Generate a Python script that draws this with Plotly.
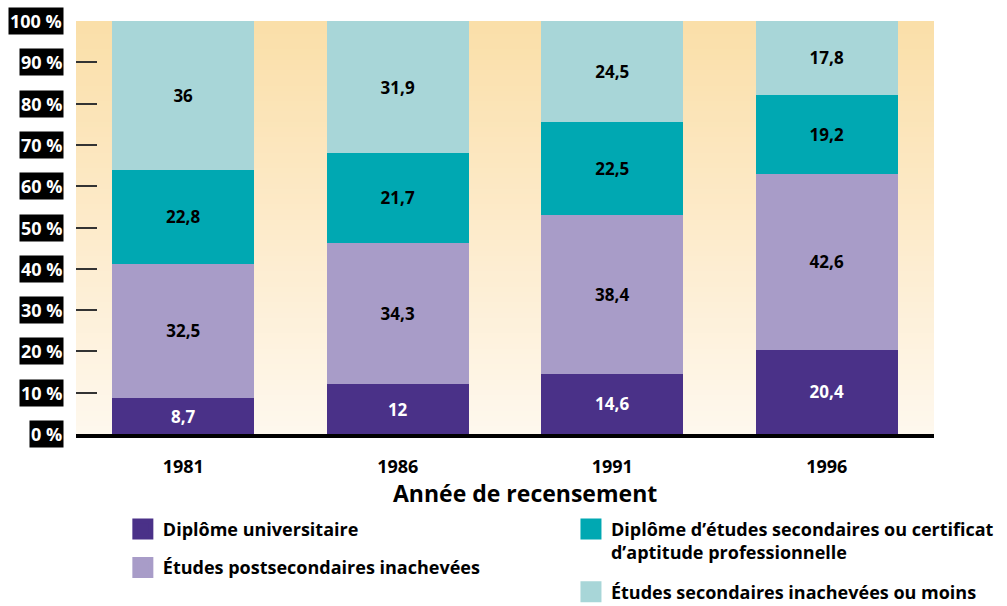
import base64, struct, zlib
import plotly.graph_objects as go

# ---- data ----
years = ["1981", "1986", "1991", "1996"]
series_names = [
    "Diplôme universitaire",
    "Études postsecondaires inachevées",
    "Diplôme d’études secondaires ou certificat<br>d’aptitude professionnelle",
    "Études secondaires inachevées ou moins",
]
diplome_univ = [8.7, 12, 14.6, 20.4]
postsec_inachevees = [32.5, 34.3, 38.4, 42.6]
diplome_secondaire = [22.8, 21.7, 22.5, 19.2]
secondaire_inachevees = [36, 31.9, 24.5, 17.8]
ytick_vals = [0, 10, 20, 30, 40, 50, 60, 70, 80, 90, 100]
ytick_text = ["0 %", "10 %", "20 %", "30 %", "40 %", "50 %", "60 %", "70 %", "80 %", "90 %", "100 %"]
x_title = "Année de recensement"

values = [diplome_univ, postsec_inachevees, diplome_secondaire, secondaire_inachevees]
colors = ["#4A3188", "#A89CC8", "#00A8B2", "#A8D6D8"]
text_colors = ["white", "black", "black", "black"]
legend_ids = ["legend", "legend", "legend2", "legend2"]
FONT = "Open Sans"


def fmt(v):
    return f"{v:g}".replace(".", ",")


# ---- gradient background image (styling) ----
def gradient_png(stops, n=80):
    rows = []
    for i in range(n):
        t = i / (n - 1)
        for k in range(len(stops) - 1):
            t0, c0 = stops[k]
            t1, c1 = stops[k + 1]
            if t0 <= t <= t1:
                f = (t - t0) / (t1 - t0) if t1 > t0 else 0
                rows.append(tuple(int(round(c0[j] + (c1[j] - c0[j]) * f)) for j in range(3)))
                break
    raw = b"".join(b"\x00" + bytes(r) for r in rows)

    def chunk(tag, data):
        c = struct.pack(">I", len(data)) + tag + data
        return c + struct.pack(">I", zlib.crc32(tag + data) & 0xFFFFFFFF)

    png = b"\x89PNG\r\n\x1a\n"
    png += chunk(b"IHDR", struct.pack(">IIBBBBB", 1, n, 8, 2, 0, 0, 0))
    png += chunk(b"IDAT", zlib.compress(raw, 9))
    png += chunk(b"IEND", b"")
    return "data:image/png;base64," + base64.b64encode(png).decode()


grad = gradient_png([(0.0, (250, 223, 169)), (0.5, (253, 235, 203)), (1.0, (254, 248, 238))])

fig = go.Figure()

for name, vals, col, tcol in zip(series_names, values, colors, text_colors):
    fig.add_trace(go.Bar(
        x=years, y=vals, name=name,
        marker=dict(color=col, line=dict(width=0)),
        text=[fmt(v) for v in vals],
        textposition="inside", insidetextanchor="middle", textangle=0,
        constraintext="none",
        textfont=dict(family=FONT, size=17, color=tcol, weight="bold"),
        hoverinfo="skip", showlegend=False,
    ))

# legend entries (larger square swatches)
for i, (name, col, lg) in enumerate(zip(series_names, colors, legend_ids)):
    fig.add_trace(go.Scatter(
        x=[None], y=[None], mode="markers", name=name,
        marker=dict(symbol="square", size=16, color=col, line=dict(width=5, color=col)),
        legend=lg, legendgroup=f"g{i}", showlegend=True, hoverinfo="skip",
    ))

# y tick labels as black boxes with white text
for v, t in zip(ytick_vals, ytick_text):
    fig.add_annotation(
        x=-0.014, xref="paper", xanchor="right",
        y=v, yref="y", yanchor="middle",
        text=t, showarrow=False,
        bgcolor="black", borderpad=1,
        font=dict(family=FONT, size=18, color="white", weight="bold"),
    )

# x-axis title (offset to the right like the reference)
fig.add_annotation(
    x=0.523, xref="paper", xanchor="center",
    y=-0.143, yref="paper", yanchor="middle",
    text=x_title, showarrow=False,
    font=dict(family=FONT, size=23, color="black", weight="bold"),
)

legend_font = dict(family=FONT, size=18, color="black", weight="bold")

fig.update_layout(
    width=1007, height=606,
    margin=dict(l=76, r=73, t=21, b=172, autoexpand=False),
    paper_bgcolor="white", plot_bgcolor="white",
    barmode="stack", bargap=0.336,
    images=[dict(source=grad, xref="paper", yref="paper", x=0, y=1, sizex=1, sizey=1,
                 xanchor="left", yanchor="top", sizing="stretch", layer="below")],
    xaxis=dict(
        type="category", showgrid=False, zeroline=False,
        showline=True, linecolor="black", linewidth=4,
        ticks="", ticklabelstandoff=13,
        tickfont=dict(family=FONT, size=18, color="black", weight="bold"),
    ),
    yaxis=dict(
        range=[0, 100], showgrid=False, zeroline=False, showline=False,
        tickvals=ytick_vals, showticklabels=False,
        ticks="inside", ticklen=21, tickwidth=2, tickcolor="#333333",
    ),
    legend=dict(x=0.122, y=0.157, xref="container", yref="container",
                xanchor="left", yanchor="top",
                orientation="v", traceorder="grouped", tracegroupgap=12,
                font=legend_font, bgcolor="rgba(0,0,0,0)", valign="top"),
    legend2=dict(x=0.567, y=0.157, xref="container", yref="container",
                 xanchor="left", yanchor="top",
                 orientation="v", traceorder="grouped", tracegroupgap=13,
                 font=legend_font, bgcolor="rgba(0,0,0,0)", valign="top"),
    showlegend=True,
)

fig.write_html("out.html", config={"displayModeBar": False},
               post_script="document.body.style.margin='0';document.body.style.overflow='hidden';")
